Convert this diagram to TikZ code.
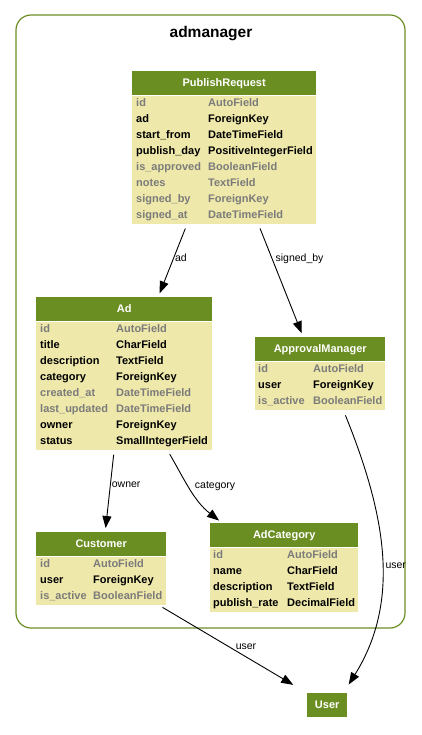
\documentclass[tikz,border=0pt]{standalone}
\usepackage{fontspec}
\setmainfont{Liberation Sans}
\usetikzlibrary{positioning,arrows.meta}
\definecolor{olivedrab}{RGB}{107,142,35}
\definecolor{khaki}{RGB}{238,232,170}
\definecolor{dimtext}{RGB}{123,123,123}
\renewcommand{\arraystretch}{0}
\newcommand{\fld}[2]{#1 & #2\rule[-5pt]{0pt}{16pt}\\}
\newcommand{\fldg}[2]{\textcolor{dimtext}{#1} & \textcolor{dimtext}{#2}\rule[-5pt]{0pt}{16pt}\\}
\tikzset{
  hdr/.style={fill=olivedrab, text=white, anchor=north west, minimum height=24pt,
    inner sep=0pt, text height=8pt, text depth=2pt, font=\bfseries\fontsize{11}{12}\selectfont},
  body/.style={fill=khaki, anchor=north west, inner sep=0pt, font=\bfseries\fontsize{11}{12}\selectfont},
  rel/.style={line width=0.9pt, -{Triangle[length=12pt,width=9pt]}, shorten <=5pt, shorten >=4pt},
  lbl/.style={inner sep=1pt, font=\fontsize{10.5}{12}\selectfont}
}
\begin{document}
\begin{tikzpicture}[x=1pt, y=1pt]
\useasboundingbox (0,0) rectangle (421,-735);
\draw [olivedrab, line width=1.2pt, rounded corners=15pt] (16,-15) rectangle (405,-628);
\node [font=\bfseries\fontsize{15.5}{18}\selectfont] (title) at (211,-34) {admanager};

\node [hdr, minimum width=184pt] (PR) at (132,-71) {PublishRequest};
\node [body] (PRf) at (PR.south west) {\begin{tabular}{@{\hspace{4pt}}p{72pt}@{}p{108pt}@{}}
\fldg{id}{AutoField}
\fld{ad}{ForeignKey}
\fld{start\_from}{DateTimeField}
\fld{publish\_day}{PositiveIntegerField}
\fldg{is\_approved}{BooleanField}
\fldg{notes}{TextField}
\fldg{signed\_by}{ForeignKey}
\fldg{signed\_at}{DateTimeField}
\end{tabular}};

\node [hdr, minimum width=176pt] (Ad) at (36,-297) {Ad};
\node [body] (Adf) at (Ad.south west) {\begin{tabular}{@{\hspace{4pt}}p{76pt}@{}p{96pt}@{}}
\fldg{id}{AutoField}
\fld{title}{CharField}
\fld{description}{TextField}
\fld{category}{ForeignKey}
\fldg{created\_at}{DateTimeField}
\fldg{last\_updated}{DateTimeField}
\fld{owner}{ForeignKey}
\fld{status}{SmallIntegerField}
\end{tabular}};

\node [hdr, minimum width=130pt] (AM) at (255,-337) {ApprovalManager};
\node [body] (AMf) at (AM.south west) {\begin{tabular}{@{\hspace{3pt}}p{55pt}@{}p{72pt}@{}}
\fldg{id}{AutoField}
\fld{user}{ForeignKey}
\fldg{is\_active}{BooleanField}
\end{tabular}};

\node [hdr, minimum width=130pt] (Cu) at (36,-532) {Customer};
\node [body] (Cuf) at (Cu.south west) {\begin{tabular}{@{\hspace{4pt}}p{53pt}@{}p{73pt}@{}}
\fldg{id}{AutoField}
\fld{user}{ForeignKey}
\fldg{is\_active}{BooleanField}
\end{tabular}};

\node [hdr, minimum width=148pt] (AC) at (210,-523) {AdCategory};
\node [body] (ACf) at (AC.south west) {\begin{tabular}{@{\hspace{3pt}}p{74pt}@{}p{71pt}@{}}
\fldg{id}{AutoField}
\fld{name}{CharField}
\fld{description}{TextField}
\fld{publish\_rate}{DecimalField}
\end{tabular}};

\node [hdr, minimum width=40pt] (U) at (307,-693) {User};

\draw [rel] ([xshift=-37pt]PRf.south) -- node [lbl, right, pos=0.47] {ad} ([xshift=34pt]Ad.north);
\draw [rel] ([xshift=34pt]PRf.south) -- node [lbl, right=2pt, pos=0.31] {signed\_by} ([xshift=-17pt]AM.north);
\draw [rel] ([xshift=-10pt]Adf.south) -- node [lbl, right, pos=0.42] {owner} ([xshift=4pt]Cu.north);
\draw [rel] ([xshift=43pt]Adf.south) to [out=-60, in=142] node [lbl, right=5pt, pos=0.45] {category} ([xshift=-62pt]AC.north);
\draw [rel, shorten <=6pt, shorten >=10pt] ([xshift=23pt]AMf.south) to [out=-68, in=58] node [lbl, right=3pt, pos=0.54] {user} ([xshift=-4pt]U.north east);
\draw [rel, shorten >=16pt] ([xshift=57pt]Cuf.south) -- node [lbl, above=6pt, pos=0.59] {user} (U.north west);
\end{tikzpicture}
\end{document}
